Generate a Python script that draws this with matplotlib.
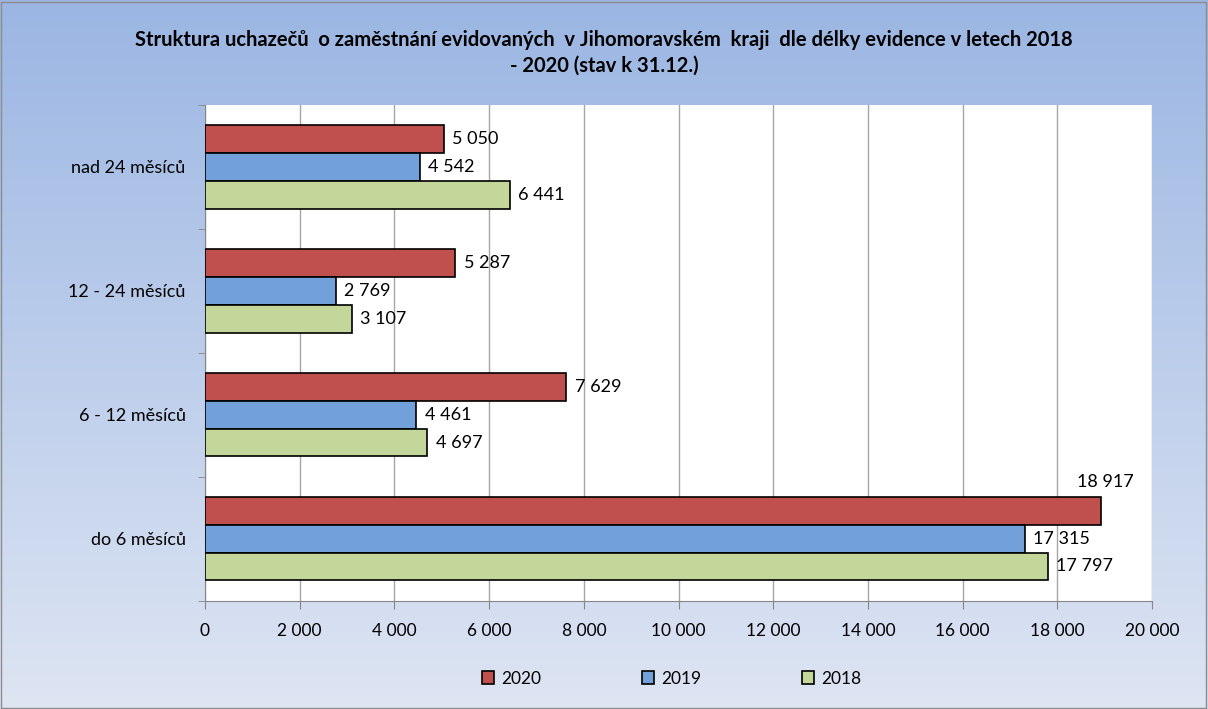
import numpy as np
import matplotlib.pyplot as plt
from matplotlib.patches import Rectangle

plt.rcParams['font.family'] = ['Lato', 'DejaVu Sans']

# Data
categories = ['do 6 měsíců', '6 - 12 měsíců', '12 - 24 měsíců', 'nad 24 měsíců']
years = ['2020', '2019', '2018']
v2020 = [18917, 7629, 5287, 5050]
v2019 = [17315, 4461, 2769, 4542]
v2018 = [17797, 4697, 3107, 6441]
colors = ['#C0504D', '#71A0DA', '#C4D79B']
xticks = np.arange(0, 20001, 2000)

def fmt(v):
    return f'{v:,}'.replace(',', ' ')

fig = plt.figure(figsize=(12.08, 7.09), dpi=100)

# gradient background
bg = fig.add_axes([0, 0, 1, 1], zorder=0)
top = np.array([0.608, 0.714, 0.890])
bot = np.array([0.870, 0.898, 0.953])
t = np.linspace(0, 1, 256)[:, None]
grad = (top * (1 - t) + bot * t)[:, None, :]
bg.imshow(grad, aspect='auto', extent=[0, 1, 0, 1])
bg.add_patch(Rectangle((0.001, 0.002), 0.997, 0.995, fill=False,
                       edgecolor='#8C8C8C', lw=1, transform=bg.transAxes))
bg.axis('off')

ax = fig.add_axes([0.1697, 0.153, 0.784, 0.699], zorder=1)
ax.set_facecolor('white')

y = np.arange(len(categories))
h = 0.225
series = [v2020, v2019, v2018]
for i, (vals, yr, c) in enumerate(zip(series, years, colors)):
    pos = y + h * (1 - i)
    ax.barh(pos, vals, height=h, color=c, edgecolor='black', lw=1.2,
            label=yr, zorder=3)
    for p, v in zip(pos, vals):
        if v > 18500:
            ax.annotate(fmt(v), (v, p + h / 2), xytext=(3, 5),
                        textcoords='offset points', ha='center', va='bottom',
                        fontsize=13)
        else:
            ax.annotate(fmt(v), (v, p), xytext=(6, 0),
                        textcoords='offset points', ha='left', va='center',
                        fontsize=13)

ax.set_xlim(0, 20000)
ax.set_ylim(-0.5, 3.5)
ax.set_xticks(xticks)
ax.set_xticklabels([fmt(v) for v in xticks], fontsize=12.5)
ax.tick_params(axis='x', length=6, color='#868686', pad=10)
ax.set_yticks(y)
ax.set_yticklabels(categories, fontsize=13)
ax.tick_params(axis='y', which='major', length=0, pad=14)
ax.set_yticks(np.arange(-0.5, 3.6, 1), minor=True)
ax.tick_params(axis='y', which='minor', length=5, color='#868686')
ax.grid(axis='x', color='#A6A6A6', lw=1, zorder=0)
for s in ['top', 'right']:
    ax.spines[s].set_visible(False)
for s in ['left', 'bottom']:
    ax.spines[s].set_color('#868686')

fig.text(0.5, 0.925, 'Struktura uchazečů  o zaměstnání evidovaných  v Jihomoravském  kraji  dle délky evidence v letech 2018\n- 2020 (stav k 31.12.)',
         ha='center', va='center', fontsize=14.5, fontweight='bold', linespacing=1.35)

leg = fig.legend(loc='center', bbox_to_anchor=(0.556, 0.043), ncol=3, frameon=False,
                 fontsize=12.5, handlelength=0.7, handleheight=0.7,
                 columnspacing=5.8, handletextpad=0.4)
for p in leg.get_patches():
    p.set_linewidth(1.2)

fig.savefig('out.png', dpi=100)
